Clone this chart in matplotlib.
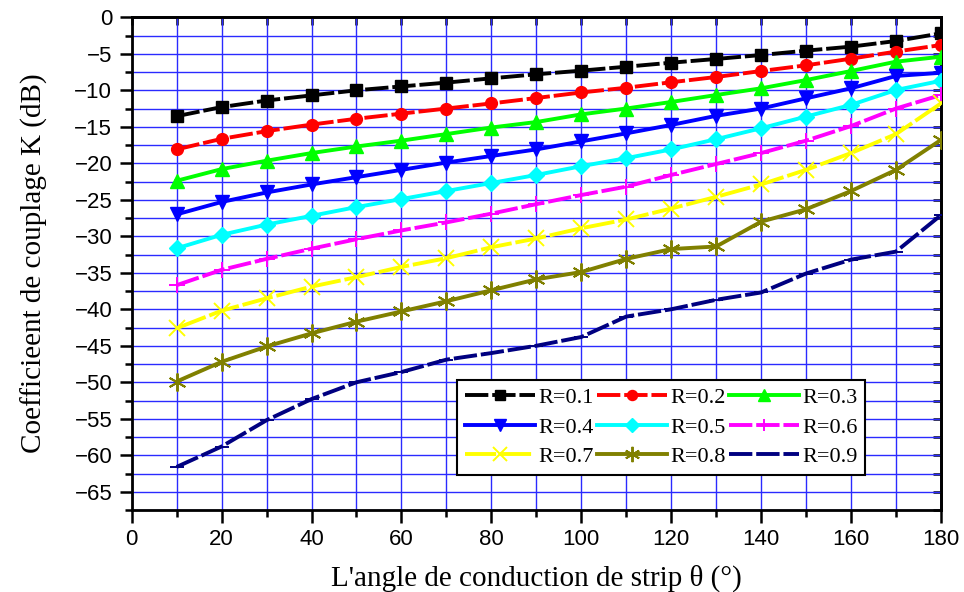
import matplotlib
matplotlib.use("Agg")
import matplotlib.pyplot as plt
from matplotlib.ticker import MultipleLocator

# Conduction angle of the strip (degrees)
theta = [10, 20, 30, 40, 50, 60, 70, 80, 90, 100, 110, 120, 130, 140, 150, 160, 170, 180]

# Coupling coefficient K (dB) for each ratio R
k_r01 = [-13.55, -12.3, -11.4, -10.7, -10.0, -9.47, -8.95, -8.36, -7.81, -7.31,
         -6.77, -6.22, -5.71, -5.17, -4.57, -4.02, -3.25, -2.2]
k_r02 = [-18.1, -16.65, -15.6, -14.7, -13.9, -13.2, -12.5, -11.8, -11.06, -10.3,
         -9.65, -8.9, -8.18, -7.36, -6.58, -5.67, -4.7, -3.8]
k_r03 = [-22.4, -20.8, -19.65, -18.6, -17.7, -16.9, -16.0, -15.1, -14.35, -13.3,
         -12.5, -11.6, -10.65, -9.73, -8.6, -7.36, -6.08, -5.4]
k_r04 = [-27.0, -25.3, -24.0, -22.9, -21.9, -20.9, -19.9, -19.0, -18.1, -17.0,
         -15.9, -14.75, -13.5, -12.5, -11.1, -9.73, -8.04, -7.6]
k_r05 = [-31.65, -29.8, -28.4, -27.2, -26.0, -24.9, -23.8, -22.7, -21.6, -20.4,
         -19.3, -18.1, -16.7, -15.2, -13.6, -12.0, -9.96, -8.7]
k_r06 = [-36.7, -34.6, -33.1, -31.7, -30.4, -29.2, -28.1, -26.9, -25.6, -24.35,
         -23.2, -21.6, -20.1, -18.6, -16.9, -14.9, -12.5, -10.65]
k_r07 = [-42.6, -40.2, -38.5, -36.9, -35.6, -34.2, -33.0, -31.5, -30.3, -28.9,
         -27.7, -26.2, -24.6, -22.9, -20.9, -18.6, -16.0, -11.8]
k_r08 = [-49.9, -47.2, -45.1, -43.3, -41.7, -40.3, -38.9, -37.4, -35.9, -34.9,
         -33.1, -31.75, -31.4, -28.0, -26.3, -23.8, -20.9, -16.8]
k_r09 = [-61.6, -58.8, -55.2, -52.3, -50.0, -48.6, -46.9, -46.0, -45.0, -43.8,
         -41.0, -40.0, -38.7, -37.7, -35.1, -33.2, -32.1, -27.1]

labels = ["R=0.1", "R=0.2", "R=0.3", "R=0.4", "R=0.5", "R=0.6", "R=0.7", "R=0.8", "R=0.9"]
series = [k_r01, k_r02, k_r03, k_r04, k_r05, k_r06, k_r07, k_r08, k_r09]

colors = ["#000000", "#ff0000", "#00ff00", "#0000ff", "#00ffff",
          "#ff00ff", "#ffff00", "#808000", "#000080"]
markers = ["s", "o", "^", "v", "D", "+", "x", (6, 2, 0), "_"]
msizes = [8, 8.5, 10.5, 10.5, 8.5, 11, 12, 13, 10]
mews = [1, 1, 1, 1, 1, 1.4, 1.4, 1.4, 1.4]
dashes = [(6, 1), (6, 1), None, None, None, (6, 1), (8, 1), None, (6, 1)]

sans = ["Liberation Sans", "DejaVu Sans"]
serif = ["Liberation Serif", "DejaVu Serif"]

plt.rcParams["font.family"] = sans
plt.rcParams["xtick.labelsize"] = 16
plt.rcParams["ytick.labelsize"] = 16

fig = plt.figure(figsize=(9.64, 5.92), dpi=100)
ax = fig.add_axes([0.1366, 0.1385, 0.8395, 0.8323])

handles = []
for y, lab, c, m, ms, mew, d in zip(series, labels, colors, markers, msizes, mews, dashes):
    line, = ax.plot(theta, y, color=c, lw=2.8, marker=m, markersize=ms,
                    markeredgewidth=mew, markeredgecolor=c, markerfacecolor=c,
                    label=lab, zorder=3)
    if d is not None:
        line.set_dashes(d)
    handles.append(line)

ax.set_xlim(0, 180)
ax.set_ylim(-67.5, 0)
ax.xaxis.set_major_locator(MultipleLocator(20))
ax.xaxis.set_minor_locator(MultipleLocator(10))
ax.yaxis.set_major_locator(MultipleLocator(5))
ax.yaxis.set_minor_locator(MultipleLocator(2.5))

ax.grid(which="both", color="#2a2aff", lw=1.0, zorder=1)
ax.set_axisbelow(True)

for s in ax.spines.values():
    s.set_linewidth(2.0)

ax.tick_params(which="major", direction="out", length=9, width=1.8,
               top=False, right=False, pad=5)
ax.tick_params(which="minor", direction="out", length=5, width=1.8,
               top=False, right=False)

# Inward ticks on the top and right edges
axt = ax.secondary_xaxis("top")
axt.xaxis.set_major_locator(MultipleLocator(10))
axt.tick_params(direction="in", length=6, width=1.8, labeltop=False)
axr = ax.secondary_yaxis("right")
axr.yaxis.set_major_locator(MultipleLocator(2.5))
axr.tick_params(direction="in", length=6, width=1.8, labelright=False)
for sa in (axt, axr):
    for s in sa.spines.values():
        s.set_linewidth(2.0)

ax.set_xlabel("L'angle de conduction de strip θ (°)", family=serif, fontsize=21, labelpad=10)
ax.set_ylabel("Coefficieent de couplage K (dB)", family=serif, fontsize=21, labelpad=19)

# legend filled row by row: three entries per row
order = [0, 3, 6, 1, 4, 7, 2, 5, 8]
leg = ax.legend([handles[i] for i in order], [labels[i] for i in order],
                ncol=3, loc="upper left", bbox_to_anchor=(0.402, 0.264),
                borderaxespad=0, prop={"family": serif, "size": 16},
                handlelength=3.15, handletextpad=0.15, columnspacing=0.15,
                labelspacing=0.4, borderpad=0.35, fancybox=False,
                framealpha=1, edgecolor="black", markerscale=0.85)
leg.get_frame().set_linewidth(1.5)
leg.set_zorder(5)

fig.savefig("out.png", dpi=100)
